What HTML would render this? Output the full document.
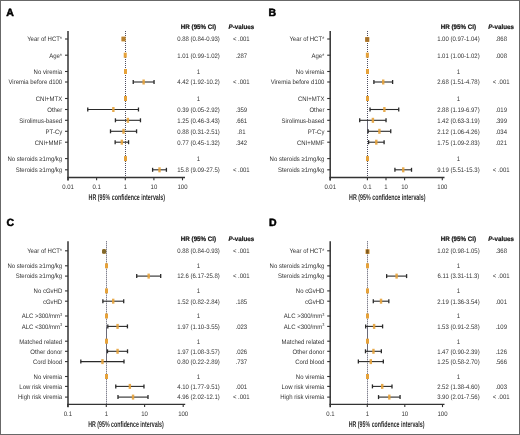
<!DOCTYPE html>
<html><head><meta charset="utf-8"><style>
html,body{margin:0;padding:0;background:#fff;}
body{width:520px;height:435px;overflow:hidden;}
svg{display:block;font-family:"Liberation Sans", sans-serif;will-change:transform;text-rendering:geometricPrecision;}
</style></head><body>
<svg width="520" height="435" viewBox="0 0 520 435">
<rect x="0" y="0" width="520" height="435" fill="#fff"/>
<text x="6.30" y="15.60" text-anchor="start" font-size="10.5" font-weight="700" fill="#000" stroke="#000" stroke-width="0.5">A</text>
<line x1="125.50" y1="31.00" x2="125.50" y2="177.50" stroke="#4c4c60" stroke-width="1" stroke-dasharray="1 1"/>
<line x1="68.00" y1="31.00" x2="68.00" y2="180.50" stroke="#333333" stroke-width="1.5" />
<line x1="67.25" y1="177.50" x2="185.00" y2="177.50" stroke="#333333" stroke-width="1.3" />
<line x1="68.00" y1="177.50" x2="68.00" y2="180.30" stroke="#333333" stroke-width="1.1" />
<text transform="translate(68.00,189.20) scale(0.92,1)" text-anchor="middle" font-size="6.5" font-weight="400" fill="#333333" >0.01</text>
<line x1="96.60" y1="177.50" x2="96.60" y2="180.30" stroke="#333333" stroke-width="1.1" />
<text transform="translate(96.60,189.20) scale(0.92,1)" text-anchor="middle" font-size="6.5" font-weight="400" fill="#333333" >0.1</text>
<line x1="125.30" y1="177.50" x2="125.30" y2="180.30" stroke="#333333" stroke-width="1.1" />
<text transform="translate(125.30,189.20) scale(0.92,1)" text-anchor="middle" font-size="6.5" font-weight="400" fill="#333333" >1</text>
<line x1="153.90" y1="177.50" x2="153.90" y2="180.30" stroke="#333333" stroke-width="1.1" />
<text transform="translate(153.90,189.20) scale(0.92,1)" text-anchor="middle" font-size="6.5" font-weight="400" fill="#333333" >10</text>
<line x1="182.50" y1="177.50" x2="182.50" y2="180.30" stroke="#333333" stroke-width="1.1" />
<text transform="translate(182.50,189.20) scale(0.92,1)" text-anchor="middle" font-size="6.5" font-weight="400" fill="#333333" >100</text>
<text x="126.80" y="200.40" text-anchor="middle" font-size="8.3" font-weight="700" fill="#2a2a2a" textLength="76.5" lengthAdjust="spacingAndGlyphs">HR (95% confidence intervals)</text>
<text transform="translate(198.50,28.50) scale(0.96,1)" text-anchor="middle" font-size="6.5" font-weight="700" fill="#151515" stroke="#151515" stroke-width="0.2">HR (95% CI)</text>
<text transform="translate(241.30,28.50) scale(0.96,1)" text-anchor="middle" font-size="6.5" font-weight="700" fill="#151515" stroke="#151515" stroke-width="0.2"><tspan font-style="italic">P</tspan>-values</text>
<text transform="translate(62.20,41.30) scale(0.92,1)" text-anchor="end" font-size="6.5" font-weight="400" fill="#333333" >Year of HCT*</text>
<line x1="65.00" y1="39.00" x2="68.00" y2="39.00" stroke="#333333" stroke-width="1.1" />
<rect x="121.51" y="36.70" width="4.00" height="4.60" fill="#e6a23a" rx="0"/>
<rect x="121.51" y="36.70" width="4.00" height="4.60" fill="#9a6a2a" rx="0" opacity="0.6"/>
<text transform="translate(198.50,41.30) scale(0.92,1)" text-anchor="middle" font-size="6.5" font-weight="400" fill="#333333" >0.88 (0.84-0.93)</text>
<text transform="translate(241.30,41.30) scale(0.92,1)" text-anchor="middle" font-size="6.5" font-weight="400" fill="#333333" >&lt; .001</text>
<text transform="translate(62.20,57.50) scale(0.92,1)" text-anchor="end" font-size="6.5" font-weight="400" fill="#333333" >Age*</text>
<line x1="65.00" y1="55.20" x2="68.00" y2="55.20" stroke="#333333" stroke-width="1.1" />
<line x1="124.97" y1="53.20" x2="124.97" y2="57.20" stroke="#2a2a2a" stroke-width="1.3" />
<line x1="125.35" y1="53.20" x2="125.35" y2="57.20" stroke="#2a2a2a" stroke-width="1.3" />
<rect x="123.72" y="52.70" width="3.00" height="5.00" fill="#e6a23a" />
<text transform="translate(198.50,57.50) scale(0.92,1)" text-anchor="middle" font-size="6.5" font-weight="400" fill="#333333" >1.01 (0.99-1.02)</text>
<text transform="translate(241.30,57.50) scale(0.92,1)" text-anchor="middle" font-size="6.5" font-weight="400" fill="#333333" >.287</text>
<text transform="translate(62.20,73.80) scale(0.92,1)" text-anchor="end" font-size="6.5" font-weight="400" fill="#333333" >No viremia</text>
<line x1="65.00" y1="71.50" x2="68.00" y2="71.50" stroke="#333333" stroke-width="1.1" />
<rect x="124.00" y="69.00" width="3.00" height="5.00" fill="#e6a23a" />
<text transform="translate(198.50,73.80) scale(0.92,1)" text-anchor="middle" font-size="6.5" font-weight="400" fill="#333333" >1</text>
<text transform="translate(62.20,84.30) scale(0.92,1)" text-anchor="end" font-size="6.5" font-weight="400" fill="#333333" >Viremia before d100</text>
<line x1="65.00" y1="82.00" x2="68.00" y2="82.00" stroke="#333333" stroke-width="1.1" />
<line x1="133.23" y1="82.00" x2="154.05" y2="82.00" stroke="#2a2a2a" stroke-width="1.1" />
<rect x="142.42" y="79.50" width="2.40" height="5.00" fill="#e6a23a" opacity="0.9"/>
<line x1="133.23" y1="80.00" x2="133.23" y2="84.00" stroke="#2a2a2a" stroke-width="1.3" />
<line x1="154.05" y1="80.00" x2="154.05" y2="84.00" stroke="#2a2a2a" stroke-width="1.3" />
<text transform="translate(198.50,84.30) scale(0.92,1)" text-anchor="middle" font-size="6.5" font-weight="400" fill="#333333" >4.42 (1.92-10.2)</text>
<text transform="translate(241.30,84.30) scale(0.92,1)" text-anchor="middle" font-size="6.5" font-weight="400" fill="#333333" >&lt; .001</text>
<text transform="translate(62.20,100.80) scale(0.92,1)" text-anchor="end" font-size="6.5" font-weight="400" fill="#333333" >CNI+MTX</text>
<line x1="65.00" y1="98.50" x2="68.00" y2="98.50" stroke="#333333" stroke-width="1.1" />
<rect x="124.00" y="96.00" width="3.00" height="5.00" fill="#e6a23a" />
<text transform="translate(198.50,100.80) scale(0.92,1)" text-anchor="middle" font-size="6.5" font-weight="400" fill="#333333" >1</text>
<text transform="translate(62.20,111.80) scale(0.92,1)" text-anchor="end" font-size="6.5" font-weight="400" fill="#333333" >Other</text>
<line x1="65.00" y1="109.50" x2="68.00" y2="109.50" stroke="#333333" stroke-width="1.1" />
<line x1="87.76" y1="109.50" x2="138.46" y2="109.50" stroke="#2a2a2a" stroke-width="1.1" />
<rect x="112.16" y="107.00" width="2.40" height="5.00" fill="#e6a23a" opacity="0.9"/>
<line x1="87.76" y1="107.50" x2="87.76" y2="111.50" stroke="#2a2a2a" stroke-width="1.3" />
<line x1="138.46" y1="107.50" x2="138.46" y2="111.50" stroke="#2a2a2a" stroke-width="1.3" />
<text transform="translate(198.50,111.80) scale(0.92,1)" text-anchor="middle" font-size="6.5" font-weight="400" fill="#333333" >0.39 (0.05-2.92)</text>
<text transform="translate(241.30,111.80) scale(0.92,1)" text-anchor="middle" font-size="6.5" font-weight="400" fill="#333333" >.359</text>
<text transform="translate(62.20,122.60) scale(0.92,1)" text-anchor="end" font-size="6.5" font-weight="400" fill="#333333" >Sirolimus-based</text>
<line x1="65.00" y1="120.30" x2="68.00" y2="120.30" stroke="#333333" stroke-width="1.1" />
<line x1="115.42" y1="120.30" x2="140.46" y2="120.30" stroke="#2a2a2a" stroke-width="1.1" />
<rect x="126.68" y="117.80" width="2.40" height="5.00" fill="#e6a23a" opacity="0.9"/>
<line x1="115.42" y1="118.30" x2="115.42" y2="122.30" stroke="#2a2a2a" stroke-width="1.3" />
<line x1="140.46" y1="118.30" x2="140.46" y2="122.30" stroke="#2a2a2a" stroke-width="1.3" />
<text transform="translate(198.50,122.60) scale(0.92,1)" text-anchor="middle" font-size="6.5" font-weight="400" fill="#333333" >1.25 (0.46-3.43)</text>
<text transform="translate(241.30,122.60) scale(0.92,1)" text-anchor="middle" font-size="6.5" font-weight="400" fill="#333333" >.661</text>
<text transform="translate(62.20,133.60) scale(0.92,1)" text-anchor="end" font-size="6.5" font-weight="400" fill="#333333" >PT-Cy</text>
<line x1="65.00" y1="131.30" x2="68.00" y2="131.30" stroke="#333333" stroke-width="1.1" />
<line x1="110.50" y1="131.30" x2="136.57" y2="131.30" stroke="#2a2a2a" stroke-width="1.1" />
<rect x="122.31" y="128.80" width="2.40" height="5.00" fill="#e6a23a" opacity="0.9"/>
<line x1="110.50" y1="129.30" x2="110.50" y2="133.30" stroke="#2a2a2a" stroke-width="1.3" />
<line x1="136.57" y1="129.30" x2="136.57" y2="133.30" stroke="#2a2a2a" stroke-width="1.3" />
<text transform="translate(198.50,133.60) scale(0.92,1)" text-anchor="middle" font-size="6.5" font-weight="400" fill="#333333" >0.88 (0.31-2.51)</text>
<text transform="translate(241.30,133.60) scale(0.92,1)" text-anchor="middle" font-size="6.5" font-weight="400" fill="#333333" >.81</text>
<text transform="translate(62.20,144.50) scale(0.92,1)" text-anchor="end" font-size="6.5" font-weight="400" fill="#333333" >CNI+MMF</text>
<line x1="65.00" y1="142.20" x2="68.00" y2="142.20" stroke="#333333" stroke-width="1.1" />
<line x1="115.15" y1="142.20" x2="128.56" y2="142.20" stroke="#2a2a2a" stroke-width="1.1" />
<rect x="120.64" y="139.70" width="2.40" height="5.00" fill="#e6a23a" opacity="0.9"/>
<line x1="115.15" y1="140.20" x2="115.15" y2="144.20" stroke="#2a2a2a" stroke-width="1.3" />
<line x1="128.56" y1="140.20" x2="128.56" y2="144.20" stroke="#2a2a2a" stroke-width="1.3" />
<text transform="translate(198.50,144.50) scale(0.92,1)" text-anchor="middle" font-size="6.5" font-weight="400" fill="#333333" >0.77 (0.45-1.32)</text>
<text transform="translate(241.30,144.50) scale(0.92,1)" text-anchor="middle" font-size="6.5" font-weight="400" fill="#333333" >.342</text>
<text transform="translate(62.20,160.90) scale(0.92,1)" text-anchor="end" font-size="6.5" font-weight="400" fill="#333333" >No steroids ≥1mg/kg</text>
<line x1="65.00" y1="158.60" x2="68.00" y2="158.60" stroke="#333333" stroke-width="1.1" />
<rect x="124.00" y="156.10" width="3.00" height="5.00" fill="#e6a23a" />
<text transform="translate(198.50,160.90) scale(0.92,1)" text-anchor="middle" font-size="6.5" font-weight="400" fill="#333333" >1</text>
<text transform="translate(62.20,172.10) scale(0.92,1)" text-anchor="end" font-size="6.5" font-weight="400" fill="#333333" >Steroids ≥1mg/kg</text>
<line x1="65.00" y1="169.80" x2="68.00" y2="169.80" stroke="#333333" stroke-width="1.1" />
<line x1="152.61" y1="169.80" x2="166.41" y2="169.80" stroke="#2a2a2a" stroke-width="1.1" />
<rect x="158.30" y="167.30" width="2.40" height="5.00" fill="#e6a23a" opacity="0.9"/>
<line x1="152.61" y1="167.80" x2="152.61" y2="171.80" stroke="#2a2a2a" stroke-width="1.3" />
<line x1="166.41" y1="167.80" x2="166.41" y2="171.80" stroke="#2a2a2a" stroke-width="1.3" />
<text transform="translate(198.50,172.10) scale(0.92,1)" text-anchor="middle" font-size="6.5" font-weight="400" fill="#333333" >15.8 (9.09-27.5)</text>
<text transform="translate(241.30,172.10) scale(0.92,1)" text-anchor="middle" font-size="6.5" font-weight="400" fill="#333333" >&lt; .001</text>
<text x="268.60" y="15.60" text-anchor="start" font-size="10.5" font-weight="700" fill="#000" stroke="#000" stroke-width="0.5">B</text>
<line x1="367.50" y1="31.00" x2="367.50" y2="177.50" stroke="#4c4c60" stroke-width="1" stroke-dasharray="1 1"/>
<line x1="367.50" y1="120.30" x2="367.50" y2="133.50" stroke="#6a6a78" stroke-width="1" />
<line x1="330.20" y1="31.00" x2="330.20" y2="180.50" stroke="#333333" stroke-width="1.5" />
<line x1="329.45" y1="177.50" x2="444.50" y2="177.50" stroke="#333333" stroke-width="1.3" />
<line x1="330.20" y1="177.50" x2="330.20" y2="180.30" stroke="#333333" stroke-width="1.1" />
<text transform="translate(330.20,189.20) scale(0.92,1)" text-anchor="middle" font-size="6.5" font-weight="400" fill="#333333" >0.01</text>
<line x1="367.40" y1="177.50" x2="367.40" y2="180.30" stroke="#333333" stroke-width="1.1" />
<text transform="translate(367.40,189.20) scale(0.92,1)" text-anchor="middle" font-size="6.5" font-weight="400" fill="#333333" >0.1</text>
<line x1="386.00" y1="177.50" x2="386.00" y2="180.30" stroke="#333333" stroke-width="1.1" />
<text transform="translate(386.00,189.20) scale(0.92,1)" text-anchor="middle" font-size="6.5" font-weight="400" fill="#333333" >1</text>
<line x1="404.60" y1="177.50" x2="404.60" y2="180.30" stroke="#333333" stroke-width="1.1" />
<text transform="translate(404.60,189.20) scale(0.92,1)" text-anchor="middle" font-size="6.5" font-weight="400" fill="#333333" >10</text>
<line x1="442.30" y1="177.50" x2="442.30" y2="180.30" stroke="#333333" stroke-width="1.1" />
<text transform="translate(442.30,189.20) scale(0.92,1)" text-anchor="middle" font-size="6.5" font-weight="400" fill="#333333" >100</text>
<text x="387.30" y="200.40" text-anchor="middle" font-size="8.3" font-weight="700" fill="#2a2a2a" textLength="76.5" lengthAdjust="spacingAndGlyphs">HR (95% confidence intervals)</text>
<text transform="translate(458.40,28.50) scale(0.96,1)" text-anchor="middle" font-size="6.5" font-weight="700" fill="#151515" stroke="#151515" stroke-width="0.2">HR (95% CI)</text>
<text transform="translate(501.20,28.50) scale(0.96,1)" text-anchor="middle" font-size="6.5" font-weight="700" fill="#151515" stroke="#151515" stroke-width="0.2"><tspan font-style="italic">P</tspan>-values</text>
<text transform="translate(324.40,41.30) scale(0.92,1)" text-anchor="end" font-size="6.5" font-weight="400" fill="#333333" >Year of HCT*</text>
<line x1="327.20" y1="39.00" x2="330.20" y2="39.00" stroke="#333333" stroke-width="1.1" />
<rect x="365.20" y="37.20" width="4.00" height="4.60" fill="#e6a23a" rx="0"/>
<rect x="365.20" y="37.20" width="4.00" height="4.60" fill="#9a6a2a" rx="0" opacity="0.85"/>
<text transform="translate(458.40,41.30) scale(0.92,1)" text-anchor="middle" font-size="6.5" font-weight="400" fill="#333333" >1.00 (0.97-1.04)</text>
<text transform="translate(501.20,41.30) scale(0.92,1)" text-anchor="middle" font-size="6.5" font-weight="400" fill="#333333" >.868</text>
<text transform="translate(324.40,57.50) scale(0.92,1)" text-anchor="end" font-size="6.5" font-weight="400" fill="#333333" >Age*</text>
<line x1="327.20" y1="55.20" x2="330.20" y2="55.20" stroke="#333333" stroke-width="1.1" />
<line x1="367.20" y1="53.20" x2="367.20" y2="57.20" stroke="#2a2a2a" stroke-width="1.3" />
<line x1="367.52" y1="53.20" x2="367.52" y2="57.20" stroke="#2a2a2a" stroke-width="1.3" />
<rect x="365.86" y="52.70" width="3.00" height="5.00" fill="#e6a23a" />
<text transform="translate(458.40,57.50) scale(0.92,1)" text-anchor="middle" font-size="6.5" font-weight="400" fill="#333333" >1.01 (1.00-1.02)</text>
<text transform="translate(501.20,57.50) scale(0.92,1)" text-anchor="middle" font-size="6.5" font-weight="400" fill="#333333" >.008</text>
<text transform="translate(324.40,73.80) scale(0.92,1)" text-anchor="end" font-size="6.5" font-weight="400" fill="#333333" >No viremia</text>
<line x1="327.20" y1="71.50" x2="330.20" y2="71.50" stroke="#333333" stroke-width="1.1" />
<rect x="366.00" y="69.00" width="3.00" height="5.00" fill="#e6a23a" />
<text transform="translate(458.40,73.80) scale(0.92,1)" text-anchor="middle" font-size="6.5" font-weight="400" fill="#333333" >1</text>
<text transform="translate(324.40,84.30) scale(0.92,1)" text-anchor="end" font-size="6.5" font-weight="400" fill="#333333" >Viremia before d100</text>
<line x1="327.20" y1="82.00" x2="330.20" y2="82.00" stroke="#333333" stroke-width="1.1" />
<line x1="373.89" y1="82.00" x2="392.61" y2="82.00" stroke="#2a2a2a" stroke-width="1.1" />
<rect x="382.01" y="79.50" width="2.40" height="5.00" fill="#e6a23a" opacity="0.9"/>
<line x1="373.89" y1="80.00" x2="373.89" y2="84.00" stroke="#2a2a2a" stroke-width="1.3" />
<line x1="392.61" y1="80.00" x2="392.61" y2="84.00" stroke="#2a2a2a" stroke-width="1.3" />
<text transform="translate(458.40,84.30) scale(0.92,1)" text-anchor="middle" font-size="6.5" font-weight="400" fill="#333333" >2.68 (1.51-4.78)</text>
<text transform="translate(501.20,84.30) scale(0.92,1)" text-anchor="middle" font-size="6.5" font-weight="400" fill="#333333" >&lt; .001</text>
<text transform="translate(324.40,100.80) scale(0.92,1)" text-anchor="end" font-size="6.5" font-weight="400" fill="#333333" >CNI+MTX</text>
<line x1="327.20" y1="98.50" x2="330.20" y2="98.50" stroke="#333333" stroke-width="1.1" />
<rect x="366.00" y="96.00" width="3.00" height="5.00" fill="#e6a23a" />
<text transform="translate(458.40,100.80) scale(0.92,1)" text-anchor="middle" font-size="6.5" font-weight="400" fill="#333333" >1</text>
<text transform="translate(324.40,111.80) scale(0.92,1)" text-anchor="end" font-size="6.5" font-weight="400" fill="#333333" >Other</text>
<line x1="327.20" y1="109.50" x2="330.20" y2="109.50" stroke="#333333" stroke-width="1.1" />
<line x1="370.03" y1="109.50" x2="398.74" y2="109.50" stroke="#2a2a2a" stroke-width="1.1" />
<rect x="383.18" y="107.00" width="2.40" height="5.00" fill="#e6a23a" opacity="0.9"/>
<line x1="370.03" y1="107.50" x2="370.03" y2="111.50" stroke="#2a2a2a" stroke-width="1.3" />
<line x1="398.74" y1="107.50" x2="398.74" y2="111.50" stroke="#2a2a2a" stroke-width="1.3" />
<text transform="translate(458.40,111.80) scale(0.92,1)" text-anchor="middle" font-size="6.5" font-weight="400" fill="#333333" >2.88 (1.19-6.97)</text>
<text transform="translate(501.20,111.80) scale(0.92,1)" text-anchor="middle" font-size="6.5" font-weight="400" fill="#333333" >.019</text>
<text transform="translate(324.40,122.60) scale(0.92,1)" text-anchor="end" font-size="6.5" font-weight="400" fill="#333333" >Sirolimus-based</text>
<line x1="327.20" y1="120.30" x2="330.20" y2="120.30" stroke="#333333" stroke-width="1.1" />
<line x1="359.70" y1="120.30" x2="386.04" y2="120.30" stroke="#2a2a2a" stroke-width="1.1" />
<rect x="371.70" y="117.80" width="2.40" height="5.00" fill="#e6a23a" opacity="0.9"/>
<line x1="359.70" y1="118.30" x2="359.70" y2="122.30" stroke="#2a2a2a" stroke-width="1.3" />
<line x1="386.04" y1="118.30" x2="386.04" y2="122.30" stroke="#2a2a2a" stroke-width="1.3" />
<text transform="translate(458.40,122.60) scale(0.92,1)" text-anchor="middle" font-size="6.5" font-weight="400" fill="#333333" >1.42 (0.63-3.19)</text>
<text transform="translate(501.20,122.60) scale(0.92,1)" text-anchor="middle" font-size="6.5" font-weight="400" fill="#333333" >.399</text>
<text transform="translate(324.40,133.60) scale(0.92,1)" text-anchor="end" font-size="6.5" font-weight="400" fill="#333333" >PT-Cy</text>
<line x1="327.20" y1="131.30" x2="330.20" y2="131.30" stroke="#333333" stroke-width="1.1" />
<line x1="368.15" y1="131.30" x2="390.74" y2="131.30" stroke="#2a2a2a" stroke-width="1.1" />
<rect x="378.20" y="128.80" width="2.40" height="5.00" fill="#e6a23a" opacity="0.9"/>
<line x1="368.15" y1="129.30" x2="368.15" y2="133.30" stroke="#2a2a2a" stroke-width="1.3" />
<line x1="390.74" y1="129.30" x2="390.74" y2="133.30" stroke="#2a2a2a" stroke-width="1.3" />
<text transform="translate(458.40,133.60) scale(0.92,1)" text-anchor="middle" font-size="6.5" font-weight="400" fill="#333333" >2.12 (1.06-4.26)</text>
<text transform="translate(501.20,133.60) scale(0.92,1)" text-anchor="middle" font-size="6.5" font-weight="400" fill="#333333" >.034</text>
<text transform="translate(324.40,144.50) scale(0.92,1)" text-anchor="end" font-size="6.5" font-weight="400" fill="#333333" >CNI+MMF</text>
<line x1="327.20" y1="142.20" x2="330.20" y2="142.20" stroke="#333333" stroke-width="1.1" />
<line x1="368.60" y1="142.20" x2="384.10" y2="142.20" stroke="#2a2a2a" stroke-width="1.1" />
<rect x="375.09" y="139.70" width="2.40" height="5.00" fill="#e6a23a" opacity="0.9"/>
<line x1="368.60" y1="140.20" x2="368.60" y2="144.20" stroke="#2a2a2a" stroke-width="1.3" />
<line x1="384.10" y1="140.20" x2="384.10" y2="144.20" stroke="#2a2a2a" stroke-width="1.3" />
<text transform="translate(458.40,144.50) scale(0.92,1)" text-anchor="middle" font-size="6.5" font-weight="400" fill="#333333" >1.75 (1.09-2.83)</text>
<text transform="translate(501.20,144.50) scale(0.92,1)" text-anchor="middle" font-size="6.5" font-weight="400" fill="#333333" >.021</text>
<text transform="translate(324.40,160.90) scale(0.92,1)" text-anchor="end" font-size="6.5" font-weight="400" fill="#333333" >No steroids ≥1mg/kg</text>
<line x1="327.20" y1="158.60" x2="330.20" y2="158.60" stroke="#333333" stroke-width="1.1" />
<rect x="366.00" y="156.10" width="3.00" height="5.00" fill="#e6a23a" />
<text transform="translate(458.40,160.90) scale(0.92,1)" text-anchor="middle" font-size="6.5" font-weight="400" fill="#333333" >1</text>
<text transform="translate(324.40,172.10) scale(0.92,1)" text-anchor="end" font-size="6.5" font-weight="400" fill="#333333" >Steroids ≥1mg/kg</text>
<line x1="327.20" y1="169.80" x2="330.20" y2="169.80" stroke="#333333" stroke-width="1.1" />
<line x1="394.92" y1="169.80" x2="411.51" y2="169.80" stroke="#2a2a2a" stroke-width="1.1" />
<rect x="402.03" y="167.30" width="2.40" height="5.00" fill="#e6a23a" opacity="0.9"/>
<line x1="394.92" y1="167.80" x2="394.92" y2="171.80" stroke="#2a2a2a" stroke-width="1.3" />
<line x1="411.51" y1="167.80" x2="411.51" y2="171.80" stroke="#2a2a2a" stroke-width="1.3" />
<text transform="translate(458.40,172.10) scale(0.92,1)" text-anchor="middle" font-size="6.5" font-weight="400" fill="#333333" >9.19 (5.51-15.3)</text>
<text transform="translate(501.20,172.10) scale(0.92,1)" text-anchor="middle" font-size="6.5" font-weight="400" fill="#333333" >&lt; .001</text>
<text x="6.50" y="225.80" text-anchor="start" font-size="10.5" font-weight="700" fill="#000" stroke="#000" stroke-width="0.5">C</text>
<line x1="106.50" y1="241.30" x2="106.50" y2="404.30" stroke="#4c4c60" stroke-width="1" stroke-dasharray="1 1"/>
<line x1="106.50" y1="326.40" x2="106.50" y2="362.00" stroke="#6a6a78" stroke-width="1" />
<line x1="68.00" y1="241.30" x2="68.00" y2="407.30" stroke="#333333" stroke-width="1.5" />
<line x1="67.25" y1="404.30" x2="185.20" y2="404.30" stroke="#333333" stroke-width="1.3" />
<line x1="67.80" y1="404.30" x2="67.80" y2="407.10" stroke="#333333" stroke-width="1.1" />
<text transform="translate(67.80,415.50) scale(0.92,1)" text-anchor="middle" font-size="6.5" font-weight="400" fill="#333333" >0.1</text>
<line x1="106.30" y1="404.30" x2="106.30" y2="407.10" stroke="#333333" stroke-width="1.1" />
<text transform="translate(106.30,415.50) scale(0.92,1)" text-anchor="middle" font-size="6.5" font-weight="400" fill="#333333" >1</text>
<line x1="144.60" y1="404.30" x2="144.60" y2="407.10" stroke="#333333" stroke-width="1.1" />
<text transform="translate(144.60,415.50) scale(0.92,1)" text-anchor="middle" font-size="6.5" font-weight="400" fill="#333333" >10</text>
<line x1="183.20" y1="404.30" x2="183.20" y2="407.10" stroke="#333333" stroke-width="1.1" />
<text transform="translate(183.20,415.50) scale(0.92,1)" text-anchor="middle" font-size="6.5" font-weight="400" fill="#333333" >100</text>
<text x="126.00" y="427.30" text-anchor="middle" font-size="8.3" font-weight="700" fill="#2a2a2a" textLength="75.5" lengthAdjust="spacingAndGlyphs">HR (95% confidence intervals)</text>
<text transform="translate(198.50,241.00) scale(0.96,1)" text-anchor="middle" font-size="6.5" font-weight="700" fill="#151515" stroke="#151515" stroke-width="0.2">HR (95% CI)</text>
<text transform="translate(241.30,241.00) scale(0.96,1)" text-anchor="middle" font-size="6.5" font-weight="700" fill="#151515" stroke="#151515" stroke-width="0.2"><tspan font-style="italic">P</tspan>-values</text>
<text transform="translate(62.20,253.10) scale(0.92,1)" text-anchor="end" font-size="6.5" font-weight="400" fill="#333333" >Year of HCT*</text>
<line x1="65.00" y1="250.80" x2="68.00" y2="250.80" stroke="#333333" stroke-width="1.1" />
<rect x="102.06" y="249.10" width="4.00" height="4.60" fill="#e6a23a" rx="1.5"/>
<rect x="102.06" y="249.10" width="4.00" height="4.60" fill="#6e5e2a" rx="1.5" opacity="0.85"/>
<text transform="translate(198.50,253.10) scale(0.92,1)" text-anchor="middle" font-size="6.5" font-weight="400" fill="#333333" >0.88 (0.84-0.93)</text>
<text transform="translate(241.30,253.10) scale(0.92,1)" text-anchor="middle" font-size="6.5" font-weight="400" fill="#333333" >&lt; .001</text>
<text transform="translate(62.20,268.10) scale(0.92,1)" text-anchor="end" font-size="6.5" font-weight="400" fill="#333333" >No steroids ≥1mg/kg</text>
<line x1="65.00" y1="265.80" x2="68.00" y2="265.80" stroke="#333333" stroke-width="1.1" />
<rect x="105.00" y="263.30" width="3.00" height="5.00" fill="#e6a23a" />
<text transform="translate(198.50,268.10) scale(0.92,1)" text-anchor="middle" font-size="6.5" font-weight="400" fill="#333333" >1</text>
<text transform="translate(62.20,278.40) scale(0.92,1)" text-anchor="end" font-size="6.5" font-weight="400" fill="#333333" >Steroids ≥1mg/kg</text>
<line x1="65.00" y1="276.10" x2="68.00" y2="276.10" stroke="#333333" stroke-width="1.1" />
<line x1="136.71" y1="276.10" x2="160.69" y2="276.10" stroke="#2a2a2a" stroke-width="1.1" />
<rect x="147.47" y="273.60" width="2.40" height="5.00" fill="#e6a23a" opacity="0.9"/>
<line x1="136.71" y1="274.10" x2="136.71" y2="278.10" stroke="#2a2a2a" stroke-width="1.3" />
<line x1="160.69" y1="274.10" x2="160.69" y2="278.10" stroke="#2a2a2a" stroke-width="1.3" />
<text transform="translate(198.50,278.40) scale(0.92,1)" text-anchor="middle" font-size="6.5" font-weight="400" fill="#333333" >12.6 (6.17-25.8)</text>
<text transform="translate(241.30,278.40) scale(0.92,1)" text-anchor="middle" font-size="6.5" font-weight="400" fill="#333333" >&lt; .001</text>
<text transform="translate(62.20,293.20) scale(0.92,1)" text-anchor="end" font-size="6.5" font-weight="400" fill="#333333" >No cGvHD</text>
<line x1="65.00" y1="290.90" x2="68.00" y2="290.90" stroke="#333333" stroke-width="1.1" />
<rect x="105.00" y="288.40" width="3.00" height="5.00" fill="#e6a23a" />
<text transform="translate(198.50,293.20) scale(0.92,1)" text-anchor="middle" font-size="6.5" font-weight="400" fill="#333333" >1</text>
<text transform="translate(62.20,303.50) scale(0.92,1)" text-anchor="end" font-size="6.5" font-weight="400" fill="#333333" >cGvHD</text>
<line x1="65.00" y1="301.20" x2="68.00" y2="301.20" stroke="#333333" stroke-width="1.1" />
<line x1="102.87" y1="301.20" x2="123.70" y2="301.20" stroke="#2a2a2a" stroke-width="1.1" />
<rect x="112.02" y="298.70" width="2.40" height="5.00" fill="#e6a23a" opacity="0.9"/>
<line x1="102.87" y1="299.20" x2="102.87" y2="303.20" stroke="#2a2a2a" stroke-width="1.3" />
<line x1="123.70" y1="299.20" x2="123.70" y2="303.20" stroke="#2a2a2a" stroke-width="1.3" />
<text transform="translate(198.50,303.50) scale(0.92,1)" text-anchor="middle" font-size="6.5" font-weight="400" fill="#333333" >1.52 (0.82-2.84)</text>
<text transform="translate(241.30,303.50) scale(0.92,1)" text-anchor="middle" font-size="6.5" font-weight="400" fill="#333333" >.185</text>
<text transform="translate(62.20,318.30) scale(0.92,1)" text-anchor="end" font-size="6.5" font-weight="400" fill="#333333" >ALC &gt;300/mm<tspan font-size="4.2" dy="-2.6">3</tspan></text>
<line x1="65.00" y1="316.00" x2="68.00" y2="316.00" stroke="#333333" stroke-width="1.1" />
<rect x="105.00" y="313.50" width="3.00" height="5.00" fill="#e6a23a" />
<text transform="translate(198.50,318.30) scale(0.92,1)" text-anchor="middle" font-size="6.5" font-weight="400" fill="#333333" >1</text>
<text transform="translate(62.20,328.70) scale(0.92,1)" text-anchor="end" font-size="6.5" font-weight="400" fill="#333333" >ALC &lt;300/mm<tspan font-size="4.2" dy="-2.6">3</tspan></text>
<line x1="65.00" y1="326.40" x2="68.00" y2="326.40" stroke="#333333" stroke-width="1.1" />
<line x1="107.80" y1="326.40" x2="127.44" y2="326.40" stroke="#2a2a2a" stroke-width="1.1" />
<rect x="116.37" y="323.90" width="2.40" height="5.00" fill="#e6a23a" opacity="0.9"/>
<line x1="107.80" y1="324.40" x2="107.80" y2="328.40" stroke="#2a2a2a" stroke-width="1.3" />
<line x1="127.44" y1="324.40" x2="127.44" y2="328.40" stroke="#2a2a2a" stroke-width="1.3" />
<text transform="translate(198.50,328.70) scale(0.92,1)" text-anchor="middle" font-size="6.5" font-weight="400" fill="#333333" >1.97 (1.10-3.55)</text>
<text transform="translate(241.30,328.70) scale(0.92,1)" text-anchor="middle" font-size="6.5" font-weight="400" fill="#333333" >.023</text>
<text transform="translate(62.20,343.50) scale(0.92,1)" text-anchor="end" font-size="6.5" font-weight="400" fill="#333333" >Matched related</text>
<line x1="65.00" y1="341.20" x2="68.00" y2="341.20" stroke="#333333" stroke-width="1.1" />
<rect x="105.00" y="338.70" width="3.00" height="5.00" fill="#e6a23a" />
<text transform="translate(198.50,343.50) scale(0.92,1)" text-anchor="middle" font-size="6.5" font-weight="400" fill="#333333" >1</text>
<text transform="translate(62.20,353.60) scale(0.92,1)" text-anchor="end" font-size="6.5" font-weight="400" fill="#333333" >Other donor</text>
<line x1="65.00" y1="351.30" x2="68.00" y2="351.30" stroke="#333333" stroke-width="1.1" />
<line x1="107.49" y1="351.30" x2="127.53" y2="351.30" stroke="#2a2a2a" stroke-width="1.1" />
<rect x="116.37" y="348.80" width="2.40" height="5.00" fill="#e6a23a" opacity="0.9"/>
<line x1="107.49" y1="349.30" x2="107.49" y2="353.30" stroke="#2a2a2a" stroke-width="1.3" />
<line x1="127.53" y1="349.30" x2="127.53" y2="353.30" stroke="#2a2a2a" stroke-width="1.3" />
<text transform="translate(198.50,353.60) scale(0.92,1)" text-anchor="middle" font-size="6.5" font-weight="400" fill="#333333" >1.97 (1.08-3.57)</text>
<text transform="translate(241.30,353.60) scale(0.92,1)" text-anchor="middle" font-size="6.5" font-weight="400" fill="#333333" >.026</text>
<text transform="translate(62.20,363.90) scale(0.92,1)" text-anchor="end" font-size="6.5" font-weight="400" fill="#333333" >Cord blood</text>
<line x1="65.00" y1="361.60" x2="68.00" y2="361.60" stroke="#333333" stroke-width="1.1" />
<line x1="80.82" y1="361.60" x2="123.99" y2="361.60" stroke="#2a2a2a" stroke-width="1.1" />
<rect x="101.26" y="359.10" width="2.40" height="5.00" fill="#e6a23a" opacity="0.9"/>
<line x1="80.82" y1="359.60" x2="80.82" y2="363.60" stroke="#2a2a2a" stroke-width="1.3" />
<line x1="123.99" y1="359.60" x2="123.99" y2="363.60" stroke="#2a2a2a" stroke-width="1.3" />
<text transform="translate(198.50,363.90) scale(0.92,1)" text-anchor="middle" font-size="6.5" font-weight="400" fill="#333333" >0.80 (0.22-2.89)</text>
<text transform="translate(241.30,363.90) scale(0.92,1)" text-anchor="middle" font-size="6.5" font-weight="400" fill="#333333" >.737</text>
<text transform="translate(62.20,378.80) scale(0.92,1)" text-anchor="end" font-size="6.5" font-weight="400" fill="#333333" >No viremia</text>
<line x1="65.00" y1="376.50" x2="68.00" y2="376.50" stroke="#333333" stroke-width="1.1" />
<rect x="105.00" y="374.00" width="3.00" height="5.00" fill="#e6a23a" />
<text transform="translate(198.50,378.80) scale(0.92,1)" text-anchor="middle" font-size="6.5" font-weight="400" fill="#333333" >1</text>
<text transform="translate(62.20,388.70) scale(0.92,1)" text-anchor="end" font-size="6.5" font-weight="400" fill="#333333" >Low risk viremia</text>
<line x1="65.00" y1="386.40" x2="68.00" y2="386.40" stroke="#333333" stroke-width="1.1" />
<line x1="115.77" y1="386.40" x2="143.96" y2="386.40" stroke="#2a2a2a" stroke-width="1.1" />
<rect x="128.65" y="383.90" width="2.40" height="5.00" fill="#e6a23a" opacity="0.9"/>
<line x1="115.77" y1="384.40" x2="115.77" y2="388.40" stroke="#2a2a2a" stroke-width="1.3" />
<line x1="143.96" y1="384.40" x2="143.96" y2="388.40" stroke="#2a2a2a" stroke-width="1.3" />
<text transform="translate(198.50,388.70) scale(0.92,1)" text-anchor="middle" font-size="6.5" font-weight="400" fill="#333333" >4.10 (1.77-9.51)</text>
<text transform="translate(241.30,388.70) scale(0.92,1)" text-anchor="middle" font-size="6.5" font-weight="400" fill="#333333" >.001</text>
<text transform="translate(62.20,399.40) scale(0.92,1)" text-anchor="end" font-size="6.5" font-weight="400" fill="#333333" >High risk viremia</text>
<line x1="65.00" y1="397.10" x2="68.00" y2="397.10" stroke="#333333" stroke-width="1.1" />
<line x1="117.99" y1="397.10" x2="148.00" y2="397.10" stroke="#2a2a2a" stroke-width="1.1" />
<rect x="131.85" y="394.60" width="2.40" height="5.00" fill="#e6a23a" opacity="0.9"/>
<line x1="117.99" y1="395.10" x2="117.99" y2="399.10" stroke="#2a2a2a" stroke-width="1.3" />
<line x1="148.00" y1="395.10" x2="148.00" y2="399.10" stroke="#2a2a2a" stroke-width="1.3" />
<text transform="translate(198.50,399.40) scale(0.92,1)" text-anchor="middle" font-size="6.5" font-weight="400" fill="#333333" >4.96 (2.02-12.1)</text>
<text transform="translate(241.30,399.40) scale(0.92,1)" text-anchor="middle" font-size="6.5" font-weight="400" fill="#333333" >&lt; .001</text>
<text x="269.00" y="225.80" text-anchor="start" font-size="10.5" font-weight="700" fill="#000" stroke="#000" stroke-width="0.5">D</text>
<line x1="367.50" y1="241.30" x2="367.50" y2="404.30" stroke="#4c4c60" stroke-width="1" stroke-dasharray="1 1"/>
<line x1="367.50" y1="326.40" x2="367.50" y2="351.50" stroke="#6a6a78" stroke-width="1" />
<line x1="330.20" y1="241.30" x2="330.20" y2="407.30" stroke="#333333" stroke-width="1.5" />
<line x1="329.45" y1="404.30" x2="444.50" y2="404.30" stroke="#333333" stroke-width="1.3" />
<line x1="330.40" y1="404.30" x2="330.40" y2="407.10" stroke="#333333" stroke-width="1.1" />
<text transform="translate(330.40,415.50) scale(0.92,1)" text-anchor="middle" font-size="6.5" font-weight="400" fill="#333333" >0.1</text>
<line x1="367.30" y1="404.30" x2="367.30" y2="407.10" stroke="#333333" stroke-width="1.1" />
<text transform="translate(367.30,415.50) scale(0.92,1)" text-anchor="middle" font-size="6.5" font-weight="400" fill="#333333" >1</text>
<line x1="404.80" y1="404.30" x2="404.80" y2="407.10" stroke="#333333" stroke-width="1.1" />
<text transform="translate(404.80,415.50) scale(0.92,1)" text-anchor="middle" font-size="6.5" font-weight="400" fill="#333333" >10</text>
<line x1="442.50" y1="404.30" x2="442.50" y2="407.10" stroke="#333333" stroke-width="1.1" />
<text transform="translate(442.50,415.50) scale(0.92,1)" text-anchor="middle" font-size="6.5" font-weight="400" fill="#333333" >100</text>
<text x="386.60" y="427.30" text-anchor="middle" font-size="8.3" font-weight="700" fill="#2a2a2a" textLength="75.7" lengthAdjust="spacingAndGlyphs">HR (95% confidence intervals)</text>
<text transform="translate(458.40,241.00) scale(0.96,1)" text-anchor="middle" font-size="6.5" font-weight="700" fill="#151515" stroke="#151515" stroke-width="0.2">HR (95% CI)</text>
<text transform="translate(501.20,241.00) scale(0.96,1)" text-anchor="middle" font-size="6.5" font-weight="700" fill="#151515" stroke="#151515" stroke-width="0.2"><tspan font-style="italic">P</tspan>-values</text>
<text transform="translate(324.40,253.10) scale(0.92,1)" text-anchor="end" font-size="6.5" font-weight="400" fill="#333333" >Year of HCT*</text>
<line x1="327.20" y1="250.80" x2="330.20" y2="250.80" stroke="#333333" stroke-width="1.1" />
<rect x="365.52" y="249.30" width="4.00" height="4.60" fill="#e6a23a" rx="0"/>
<rect x="365.52" y="249.30" width="4.00" height="4.60" fill="#9a6a2a" rx="0" opacity="0.15"/>
<line x1="366.87" y1="249.60" x2="366.87" y2="253.60" stroke="#3a2a10" stroke-width="0.8" />
<line x1="367.99" y1="249.60" x2="367.99" y2="253.60" stroke="#3a2a10" stroke-width="0.8" />
<text transform="translate(458.40,253.10) scale(0.92,1)" text-anchor="middle" font-size="6.5" font-weight="400" fill="#333333" >1.02 (0.98-1.05)</text>
<text transform="translate(501.20,253.10) scale(0.92,1)" text-anchor="middle" font-size="6.5" font-weight="400" fill="#333333" >.368</text>
<text transform="translate(324.40,268.10) scale(0.92,1)" text-anchor="end" font-size="6.5" font-weight="400" fill="#333333" >No steroids ≥1mg/kg</text>
<line x1="327.20" y1="265.80" x2="330.20" y2="265.80" stroke="#333333" stroke-width="1.1" />
<rect x="366.00" y="263.30" width="3.00" height="5.00" fill="#e6a23a" />
<text transform="translate(458.40,268.10) scale(0.92,1)" text-anchor="middle" font-size="6.5" font-weight="400" fill="#333333" >1</text>
<text transform="translate(324.40,278.40) scale(0.92,1)" text-anchor="end" font-size="6.5" font-weight="400" fill="#333333" >Steroids ≥1mg/kg</text>
<line x1="327.20" y1="276.10" x2="330.20" y2="276.10" stroke="#333333" stroke-width="1.1" />
<line x1="386.64" y1="276.10" x2="406.59" y2="276.10" stroke="#2a2a2a" stroke-width="1.1" />
<rect x="395.40" y="273.60" width="2.40" height="5.00" fill="#e6a23a" opacity="0.9"/>
<line x1="386.64" y1="274.10" x2="386.64" y2="278.10" stroke="#2a2a2a" stroke-width="1.3" />
<line x1="406.59" y1="274.10" x2="406.59" y2="278.10" stroke="#2a2a2a" stroke-width="1.3" />
<text transform="translate(458.40,278.40) scale(0.92,1)" text-anchor="middle" font-size="6.5" font-weight="400" fill="#333333" >6.11 (3.31-11.3)</text>
<text transform="translate(501.20,278.40) scale(0.92,1)" text-anchor="middle" font-size="6.5" font-weight="400" fill="#333333" >&lt; .001</text>
<text transform="translate(324.40,293.20) scale(0.92,1)" text-anchor="end" font-size="6.5" font-weight="400" fill="#333333" >No cGvHD</text>
<line x1="327.20" y1="290.90" x2="330.20" y2="290.90" stroke="#333333" stroke-width="1.1" />
<rect x="366.00" y="288.40" width="3.00" height="5.00" fill="#e6a23a" />
<text transform="translate(458.40,293.20) scale(0.92,1)" text-anchor="middle" font-size="6.5" font-weight="400" fill="#333333" >1</text>
<text transform="translate(324.40,303.50) scale(0.92,1)" text-anchor="end" font-size="6.5" font-weight="400" fill="#333333" >cGvHD</text>
<line x1="327.20" y1="301.20" x2="330.20" y2="301.20" stroke="#333333" stroke-width="1.1" />
<line x1="373.29" y1="301.20" x2="388.83" y2="301.20" stroke="#2a2a2a" stroke-width="1.1" />
<rect x="379.83" y="298.70" width="2.40" height="5.00" fill="#e6a23a" opacity="0.9"/>
<line x1="373.29" y1="299.20" x2="373.29" y2="303.20" stroke="#2a2a2a" stroke-width="1.3" />
<line x1="388.83" y1="299.20" x2="388.83" y2="303.20" stroke="#2a2a2a" stroke-width="1.3" />
<text transform="translate(458.40,303.50) scale(0.92,1)" text-anchor="middle" font-size="6.5" font-weight="400" fill="#333333" >2.19 (1.36-3.54)</text>
<text transform="translate(501.20,303.50) scale(0.92,1)" text-anchor="middle" font-size="6.5" font-weight="400" fill="#333333" >.001</text>
<text transform="translate(324.40,318.30) scale(0.92,1)" text-anchor="end" font-size="6.5" font-weight="400" fill="#333333" >ALC &gt;300/mm<tspan font-size="4.2" dy="-2.6">3</tspan></text>
<line x1="327.20" y1="316.00" x2="330.20" y2="316.00" stroke="#333333" stroke-width="1.1" />
<rect x="366.00" y="313.50" width="3.00" height="5.00" fill="#e6a23a" />
<text transform="translate(458.40,318.30) scale(0.92,1)" text-anchor="middle" font-size="6.5" font-weight="400" fill="#333333" >1</text>
<text transform="translate(324.40,328.70) scale(0.92,1)" text-anchor="end" font-size="6.5" font-weight="400" fill="#333333" >ALC &lt;300/mm<tspan font-size="4.2" dy="-2.6">3</tspan></text>
<line x1="327.20" y1="326.40" x2="330.20" y2="326.40" stroke="#333333" stroke-width="1.1" />
<line x1="365.67" y1="326.40" x2="382.59" y2="326.40" stroke="#2a2a2a" stroke-width="1.1" />
<rect x="372.91" y="323.90" width="2.40" height="5.00" fill="#e6a23a" opacity="0.9"/>
<line x1="365.67" y1="324.40" x2="365.67" y2="328.40" stroke="#2a2a2a" stroke-width="1.3" />
<line x1="382.59" y1="324.40" x2="382.59" y2="328.40" stroke="#2a2a2a" stroke-width="1.3" />
<text transform="translate(458.40,328.70) scale(0.92,1)" text-anchor="middle" font-size="6.5" font-weight="400" fill="#333333" >1.53 (0.91-2.58)</text>
<text transform="translate(501.20,328.70) scale(0.92,1)" text-anchor="middle" font-size="6.5" font-weight="400" fill="#333333" >.109</text>
<text transform="translate(324.40,343.50) scale(0.92,1)" text-anchor="end" font-size="6.5" font-weight="400" fill="#333333" >Matched related</text>
<line x1="327.20" y1="341.20" x2="330.20" y2="341.20" stroke="#333333" stroke-width="1.1" />
<rect x="366.00" y="338.70" width="3.00" height="5.00" fill="#e6a23a" />
<text transform="translate(458.40,343.50) scale(0.92,1)" text-anchor="middle" font-size="6.5" font-weight="400" fill="#333333" >1</text>
<text transform="translate(324.40,353.60) scale(0.92,1)" text-anchor="end" font-size="6.5" font-weight="400" fill="#333333" >Other donor</text>
<line x1="327.20" y1="351.30" x2="330.20" y2="351.30" stroke="#333333" stroke-width="1.1" />
<line x1="365.49" y1="351.30" x2="381.35" y2="351.30" stroke="#2a2a2a" stroke-width="1.1" />
<rect x="372.26" y="348.80" width="2.40" height="5.00" fill="#e6a23a" opacity="0.9"/>
<line x1="365.49" y1="349.30" x2="365.49" y2="353.30" stroke="#2a2a2a" stroke-width="1.3" />
<line x1="381.35" y1="349.30" x2="381.35" y2="353.30" stroke="#2a2a2a" stroke-width="1.3" />
<text transform="translate(458.40,353.60) scale(0.92,1)" text-anchor="middle" font-size="6.5" font-weight="400" fill="#333333" >1.47 (0.90-2.39)</text>
<text transform="translate(501.20,353.60) scale(0.92,1)" text-anchor="middle" font-size="6.5" font-weight="400" fill="#333333" >.126</text>
<text transform="translate(324.40,363.90) scale(0.92,1)" text-anchor="end" font-size="6.5" font-weight="400" fill="#333333" >Cord blood</text>
<line x1="327.20" y1="361.60" x2="330.20" y2="361.60" stroke="#333333" stroke-width="1.1" />
<line x1="358.35" y1="361.60" x2="383.33" y2="361.60" stroke="#2a2a2a" stroke-width="1.1" />
<rect x="369.62" y="359.10" width="2.40" height="5.00" fill="#e6a23a" opacity="0.9"/>
<line x1="358.35" y1="359.60" x2="358.35" y2="363.60" stroke="#2a2a2a" stroke-width="1.3" />
<line x1="383.33" y1="359.60" x2="383.33" y2="363.60" stroke="#2a2a2a" stroke-width="1.3" />
<text transform="translate(458.40,363.90) scale(0.92,1)" text-anchor="middle" font-size="6.5" font-weight="400" fill="#333333" >1.25 (0.58-2.70)</text>
<text transform="translate(501.20,363.90) scale(0.92,1)" text-anchor="middle" font-size="6.5" font-weight="400" fill="#333333" >.566</text>
<text transform="translate(324.40,378.80) scale(0.92,1)" text-anchor="end" font-size="6.5" font-weight="400" fill="#333333" >No viremia</text>
<line x1="327.20" y1="376.50" x2="330.20" y2="376.50" stroke="#333333" stroke-width="1.1" />
<rect x="366.00" y="374.00" width="3.00" height="5.00" fill="#e6a23a" />
<text transform="translate(458.40,378.80) scale(0.92,1)" text-anchor="middle" font-size="6.5" font-weight="400" fill="#333333" >1</text>
<text transform="translate(324.40,388.70) scale(0.92,1)" text-anchor="end" font-size="6.5" font-weight="400" fill="#333333" >Low risk viremia</text>
<line x1="327.20" y1="386.40" x2="330.20" y2="386.40" stroke="#333333" stroke-width="1.1" />
<line x1="372.43" y1="386.40" x2="391.99" y2="386.40" stroke="#2a2a2a" stroke-width="1.1" />
<rect x="381.01" y="383.90" width="2.40" height="5.00" fill="#e6a23a" opacity="0.9"/>
<line x1="372.43" y1="384.40" x2="372.43" y2="388.40" stroke="#2a2a2a" stroke-width="1.3" />
<line x1="391.99" y1="384.40" x2="391.99" y2="388.40" stroke="#2a2a2a" stroke-width="1.3" />
<text transform="translate(458.40,388.70) scale(0.92,1)" text-anchor="middle" font-size="6.5" font-weight="400" fill="#333333" >2.52 (1.38-4.60)</text>
<text transform="translate(501.20,388.70) scale(0.92,1)" text-anchor="middle" font-size="6.5" font-weight="400" fill="#333333" >.003</text>
<text transform="translate(324.40,399.40) scale(0.92,1)" text-anchor="end" font-size="6.5" font-weight="400" fill="#333333" >High risk viremia</text>
<line x1="327.20" y1="397.10" x2="330.20" y2="397.10" stroke="#333333" stroke-width="1.1" />
<line x1="378.54" y1="397.10" x2="400.06" y2="397.10" stroke="#2a2a2a" stroke-width="1.1" />
<rect x="388.11" y="394.60" width="2.40" height="5.00" fill="#e6a23a" opacity="0.9"/>
<line x1="378.54" y1="395.10" x2="378.54" y2="399.10" stroke="#2a2a2a" stroke-width="1.3" />
<line x1="400.06" y1="395.10" x2="400.06" y2="399.10" stroke="#2a2a2a" stroke-width="1.3" />
<text transform="translate(458.40,399.40) scale(0.92,1)" text-anchor="middle" font-size="6.5" font-weight="400" fill="#333333" >3.90 (2.01-7.56)</text>
<text transform="translate(501.20,399.40) scale(0.92,1)" text-anchor="middle" font-size="6.5" font-weight="400" fill="#333333" >&lt; .001</text>
<rect x="0.5" y="0.5" width="519" height="434" fill="none" stroke="#686868" stroke-width="1"/>
</svg>
</body></html>
